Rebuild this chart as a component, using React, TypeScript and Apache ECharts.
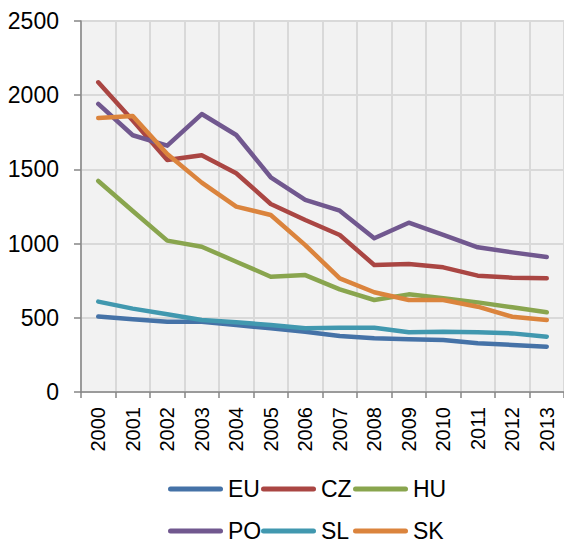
import React, { useEffect, useRef } from "react";
import * as echarts from "echarts";

const years = ["2000", "2001", "2002", "2003", "2004", "2005", "2006", "2007", "2008", "2009", "2010", "2011", "2012", "2013"];
const seriesNames = ["EU", "CZ", "HU", "PO", "SL", "SK"];
const EU = [508, 490, 474, 474, 452, 429, 406, 377, 362, 355, 350, 328, 317, 305];
const CZ = [2087, 1830, 1563, 1595, 1474, 1267, 1159, 1058, 856, 863, 840, 784, 770, 766];
const HU = [1422, 1220, 1020, 979, 878, 777, 788, 692, 620, 658, 631, 604, 571, 537];
const PO = [1941, 1730, 1660, 1873, 1732, 1447, 1294, 1222, 1036, 1141, 1058, 975, 941, 910];
const SL = [609, 562, 524, 485, 470, 451, 429, 433, 433, 402, 406, 402, 395, 373];
const SK = [1846, 1860, 1604, 1411, 1249, 1193, 990, 766, 672, 620, 620, 575, 507, 485];
const seriesData = [EU, CZ, HU, PO, SL, SK];
const colors = ["#4572a7", "#aa4643", "#89a54e", "#71588f", "#4198af", "#db843d"];

const FONT = "'Liberation Sans Narrow', 'Arial Narrow', 'Liberation Sans', Arial, sans-serif";
const capsule = "path://M2.5,0 L52.5,0 A2.5,2.5 0 0 1 52.5,5 L2.5,5 A2.5,2.5 0 0 1 2.5,0 Z";

export default function App() {
  const ref = useRef<HTMLDivElement>(null);
  useEffect(() => {
    if (!ref.current) return;
    const chart = echarts.init(ref.current, null, { renderer: "svg" });
    const legendLefts = [168, 261, 353];
    const legendTops = [476, 518];
    const legends = seriesNames.map((name, i) => ({
      show: true,
      left: legendLefts[i % 3],
      top: legendTops[Math.floor(i / 3)],
      padding: 0,
      itemWidth: 55,
      itemHeight: 5,
      itemGap: 0,
      itemTextGap: 4,
      icon: capsule,
      data: [name],
      textStyle: { fontFamily: FONT, fontSize: 23, color: "#000", lineHeight: 26 },
    }));
    chart.setOption({
      animation: false,
      color: colors,
      legend: legends,
      grid: {
        left: 81,
        top: 21,
        right: -10,
        bottom: 147,
        show: true,
        backgroundColor: "#f2f2f2",
        borderWidth: 0,
      },
      xAxis: {
        type: "category",
        data: years,
        boundaryGap: true,
        axisLine: { lineStyle: { color: "#868686", width: 1.5 } },
        axisTick: { show: true, length: 6, lineStyle: { color: "#868686", width: 1.5 } },
        splitLine: { show: true, lineStyle: { color: "#d9d9d9", width: 2 } },
        axisLabel: { rotate: 90, margin: 15, fontFamily: FONT, fontSize: 20, color: "#000" },
      },
      yAxis: {
        type: "value",
        min: 0,
        max: 2500,
        interval: 500,
        axisLine: { show: true, lineStyle: { color: "#868686", width: 1.5 } },
        axisTick: { show: true, length: 7, lineStyle: { color: "#868686", width: 1.5 } },
        splitLine: { show: true, lineStyle: { color: "#d9d9d9", width: 2 } },
        axisLabel: {
          margin: 22,
          fontFamily: FONT,
          fontSize: 23,
          color: "#000",
          formatter: (v: number) => String(v),
        },
      },
      series: seriesNames.map((name, i) => ({
        name,
        type: "line",
        data: seriesData[i],
        showSymbol: false,
        symbol: "none",
        lineStyle: { width: 4.5, color: colors[i], cap: "round", join: "round" },
        itemStyle: { color: colors[i] },
      })),
    });
    return () => chart.dispose();
  }, []);
  return (
    <div
      ref={ref}
      style={{ position: "absolute", left: 0, top: 0, width: 564, height: 539, background: "#fff" }}
    />
  );
}
